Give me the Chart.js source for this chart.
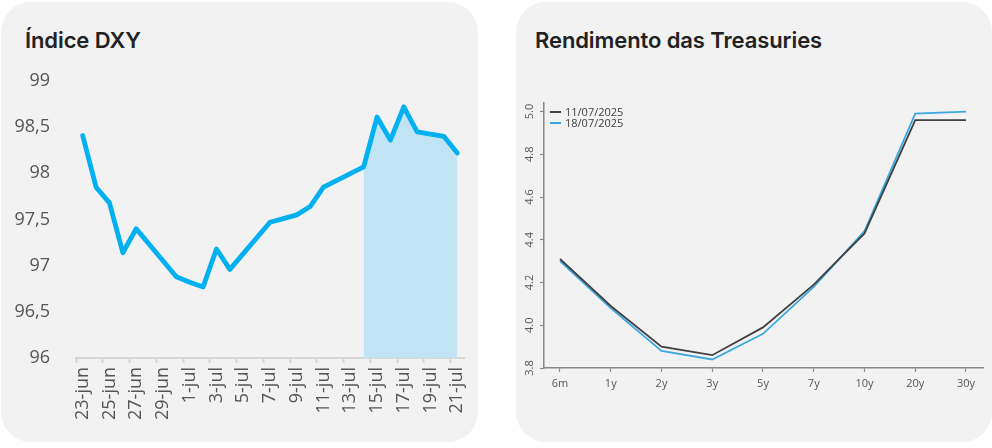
<!DOCTYPE html>
<html>
<head>
<meta charset="utf-8">
<script src="https://cdn.jsdelivr.net/npm/chart.js@4.4.1/dist/chart.umd.min.js"></script>
<style>
  html, body { margin: 0; padding: 0; background: #ffffff; }
  body { width: 992px; height: 448px; position: relative; overflow: hidden; }
  .card { position: absolute; background: #f2f2f2; border-radius: 30px; }
  .title { position: absolute; font-family: "Inter", "Noto Sans", sans-serif; font-weight: 600; font-size: 22px; color: #222; line-height: 24px; letter-spacing: -0.1px; white-space: nowrap; }
  canvas { position: absolute; top: 0; }
  .legend { position: absolute; font-family: "Open Sans", sans-serif; font-size: 11px; color: #404040; line-height: 11px; }
  .legend div { position: relative; padding-left: 15px; white-space: nowrap; }
  .legend span { position: absolute; left: 0; top: 5px; width: 11px; height: 2px; }
</style>
</head>
<body>
<div class="card" style="left:1px; top:2px; width:477px; height:440px;"></div>
<div class="card" style="left:516px; top:2px; width:476px; height:440px;"></div>
<div class="title" style="left:25px; top:28px;">Índice DXY</div>
<div class="title" style="left:535px; top:28px;">Rendimento das Treasuries</div>
<canvas id="dxy" width="478" height="442" style="left:0px;"></canvas>
<canvas id="ust" width="476" height="442" style="left:516px;"></canvas>
<div class="legend" style="left:550px; top:106px;">
  <div><span style="background:#404040"></span>11/07/2025</div>
  <div><span style="background:#3aa8df"></span>18/07/2025</div>
</div>
<script>
// ---- DXY data ----
const dxyDays = ['23-jun','24-jun','25-jun','26-jun','27-jun','28-jun','29-jun','30-jun',
  '1-jul','2-jul','3-jul','4-jul','5-jul','6-jul','7-jul','8-jul','9-jul','10-jul','11-jul',
  '12-jul','13-jul','14-jul','15-jul','16-jul','17-jul','18-jul','19-jul','20-jul','21-jul'];
const dxyValues = [98.41, 97.85, 97.68, 97.14, 97.40, null, null, 96.88,
  96.82, 96.77, 97.18, 96.96, null, null, 97.47, 97.51, 97.55, 97.64, 97.85,
  null, null, 98.07, 98.61, 98.36, 98.72, 98.45, null, 98.40, 98.22];
const dxyShadeFrom = '14-jul';
const dxyTicks = [96, 96.5, 97, 97.5, 98, 98.5, 99];

// ---- Treasuries data ----
const tenors = ['6m','1y','2y','3y','5y','7y','10y','20y','30y'];
const yields1107 = [4.31, 4.09, 3.90, 3.86, 3.99, 4.19, 4.43, 4.96, 4.96];
const yields1807 = [4.30, 4.08, 3.88, 3.84, 3.96, 4.18, 4.44, 4.99, 5.00];
const ustTicks = [3.8, 4.0, 4.2, 4.4, 4.6, 4.8, 5.0];

const shadeIdx = dxyDays.indexOf(dxyShadeFrom);
const dxyShade = dxyValues.map((v, i) => i >= shadeIdx ? v : null);

new Chart(document.getElementById('dxy'), {
  type: 'line',
  data: {
    labels: dxyDays,
    datasets: [
      { data: dxyValues, borderColor: '#00b0f0', borderWidth: 4.8, pointRadius: 0,
        tension: 0, spanGaps: true, fill: false, borderJoinStyle: 'round', borderCapStyle: 'round', order: 1 },
      { data: dxyShade, borderWidth: 0, borderColor: 'rgba(0,0,0,0)', backgroundColor: '#c1e4f5',
        pointRadius: 0, tension: 0, spanGaps: true, fill: 'start', order: 2 }
    ]
  },
  options: {
    responsive: false, animation: false, devicePixelRatio: 1,
    layout: { padding: { top: 81, right: 14, left: 0, bottom: 0 } },
    plugins: { legend: { display: false }, tooltip: { enabled: false } },
    scales: {
      x: {
        type: 'category', offset: true,
        grid: { display: true, drawOnChartArea: false, drawTicks: true, tickLength: 5, offset: true,
          tickWidth: 2, tickColor: ctx => (ctx.index !== undefined && ctx.index % 2 === 0) ? '#d6d6d6' : 'rgba(0,0,0,0)' },
        border: { display: true, color: '#d6d6d6', width: 2 },
        ticks: { autoSkip: false, minRotation: 90, maxRotation: 90, padding: 4,
          color: '#555', font: { family: 'Open Sans', size: 18 },
          callback: function(v, i) { return i % 2 === 0 ? dxyDays[i] : ''; } },
        afterFit: s => { s.height = 84; s.paddingLeft = 0; s.paddingRight = 0; }
      },
      y: {
        min: 96, max: 99,
        afterBuildTicks: s => { s.ticks = dxyTicks.map(v => ({ value: v })); },
        grid: { display: false }, border: { display: false },
        ticks: { padding: 18, color: '#555', font: { family: 'Open Sans', size: 18 },
          callback: v => String(v).replace('.', ',') },
        afterFit: s => { s.width = 76; s.paddingTop = 0; s.paddingBottom = 0; }
      }
    }
  }
});

new Chart(document.getElementById('ust'), {
  type: 'line',
  data: {
    datasets: [
      { label: '18/07/2025', data: yields1807.map((v, i) => ({ x: i, y: v })), borderColor: '#3aa8df',
        borderWidth: 1.8, pointRadius: 0, tension: 0, fill: false, order: 2 },
      { label: '11/07/2025', data: yields1107.map((v, i) => ({ x: i, y: v })), borderColor: '#404040',
        borderWidth: 1.8, pointRadius: 0, tension: 0, fill: false, order: 1 }
    ]
  },
  options: {
    responsive: false, animation: false, devicePixelRatio: 1,
    layout: { padding: { top: 103, right: 9, left: 0, bottom: 0 } },
    plugins: { legend: { display: false }, tooltip: { enabled: false } },
    scales: {
      x: {
        type: 'linear', min: -0.315, max: 8.335,
        afterBuildTicks: s => { s.ticks = tenors.map((t, i) => ({ value: i })); },
        grid: { display: true, drawOnChartArea: false, drawTicks: true, tickLength: 4, tickColor: '#888', tickWidth: 1.2 },
        border: { display: true, color: '#888', width: 1.5 },
        ticks: { autoSkip: false, maxRotation: 0, padding: 5, color: '#555',
          font: { family: 'Open Sans', size: 11 }, callback: v => tenors[v] },
        afterFit: s => { s.height = 74; s.paddingLeft = 0; s.paddingRight = 0; }
      },
      y: {
        type: 'linear', min: 3.8, max: 5.04,
        afterBuildTicks: s => { s.ticks = ustTicks.map(v => ({ value: v })); },
        grid: { display: true, drawOnChartArea: false, drawTicks: true, tickLength: 4, tickColor: '#888', tickWidth: 1.2 },
        border: { display: true, color: '#888', width: 1.5 },
        ticks: { minRotation: 90, maxRotation: 90, crossAlign: 'center', padding: 2, color: '#555',
          font: { family: 'Open Sans', size: 11 }, callback: v => v.toFixed(1) },
        afterFit: s => { s.width = 28; s.paddingTop = 0; s.paddingBottom = 0; }
      }
    }
  }
});
</script>
</body>
</html>
